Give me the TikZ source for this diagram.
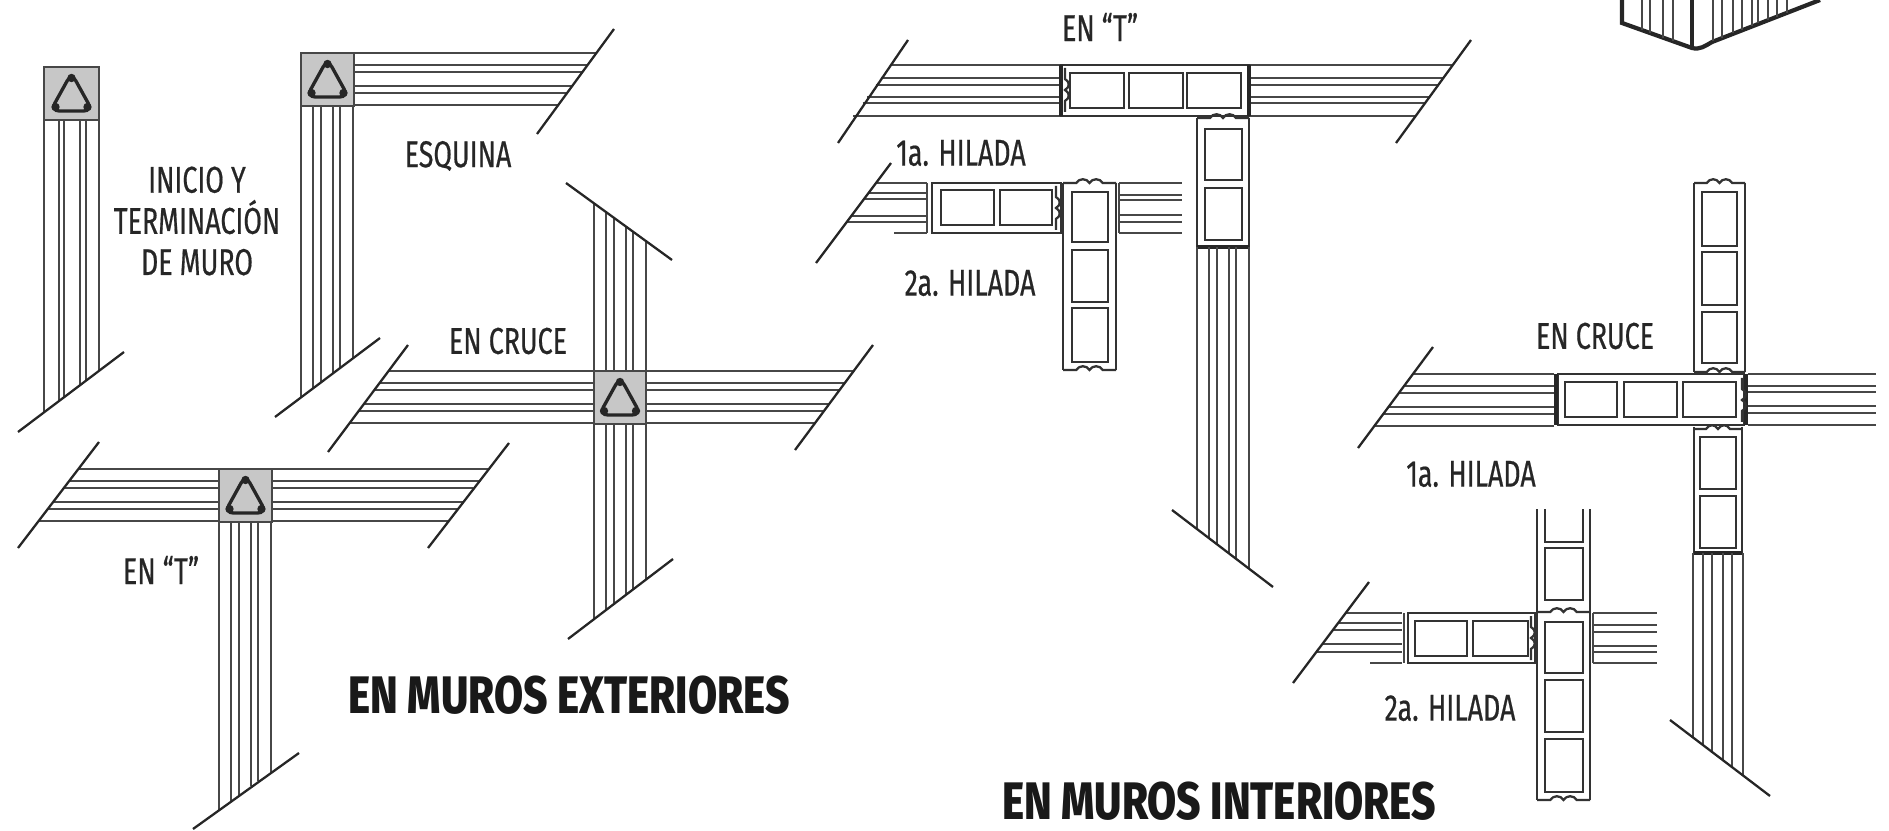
\documentclass[tikz,border=0pt]{standalone}
\usepackage{fontspec}
\setmainfont[FakeStretch=0.72,FakeBold=0.5]{Fira Sans}
\newfontfamily\titlefont[FakeStretch=0.8]{Fira Sans ExtraBold}
\usepackage{tikz}

% wall lines, block cells, concrete post
\tikzset{
	muro/.style={draw=black!72, line width=0.6pt},
	corte/.style={draw=black!85, line width=0.65pt},
	pieza/.style={draw=black!80, line width=0.65pt},
	tapa/.style={draw=black!85, line width=1.2pt},
	rotulo/.style={font=\fontsize{10.6}{11.7}\selectfont, text=black!85, inner sep=0pt, align=center},
	titulo/.style={font=\fontsize{15}{18}\selectfont\titlefont, text=black!90, inner sep=0pt}
}
\newcommand{\hwall}[6][0,12,19,33,40,52]{
	\foreach \o in {#1} \draw[muro] ({#2+#3*\o},{#6+\o}) -- ({#4+#5*\o},{#6+\o});
}
\newcommand{\vwall}[6][0,12,20,32,39,52]{
	\foreach \o in {#1} \draw[muro] ({#2+\o},{#3+#4*\o}) -- ({#2+\o},{#5+#6*\o});
}
\newcommand{\castillo}[3]{
	\draw[muro, fill=black!22] (#1,#2) rectangle ++(#3,53);
	\draw[draw=black!85, line width=0.95pt, rounded corners=2.5pt]
		({#1+#3/2},{#2+6}) -- ({#1+#3/2+21},{#2+44}) -- ({#1+#3/2-21},{#2+44}) -- cycle;
	\foreach \a/\b in {0/11, 16/40, -16/40} \fill[black!85] ({#1+#3/2+\a},{#2+\b}) circle (4.2);
}
\newcommand{\onda}[4]{
	\begin{scope}[shift={(#1,#2)}, rotate=#4]
		\draw[pieza] (0,0) -- ({#3*0.25},0) .. controls +(3,-5) and +(-3,-5) .. ({#3*0.5},0)
			.. controls +(3,-5) and +(-3,-5) .. ({#3*0.75},0) -- (#3,0);
	\end{scope}
}

\begin{document}
\begin{tikzpicture}[x=0.01cm, y=-0.01cm]
  \useasboundingbox (0,0) rectangle (1889,831);

  % exterior walls
  \vwall[0,15,20,36,42,55]{44}{120}{0}{412}{-.755}
  \castillo{44}{67}{55}
  \draw[corte] (18,432) -- (124,352);

  \hwall{354}{0}{596}{-.733}{53}
  \vwall{301}{107}{0}{398}{-.756}
  \castillo{301}{53}{53}
  \draw[corte] (614,29) -- (537,134);
  \draw[corte] (275,417) -- (380,338);

  \hwall{389}{-.748}{594}{0}{371}
  \hwall{646}{0}{854}{-.743}{371}
  \vwall{594}{203}{.726}{371}{0}
  \vwall{594}{424}{0}{619}{-.762}
  \castillo{594}{371}{52}
  \draw[corte] (408,345) -- (328,452);
  \draw[corte] (873,345) -- (795,450);
  \draw[corte] (566,183) -- (672,260);
  \draw[corte] (673,559) -- (568,639);

  \hwall{78}{-.764}{219}{0}{469}
  \hwall{272}{0}{488}{-.77}{469}
  \vwall{219}{522}{0}{810}{-.736}
  \castillo{219}{469}{53}
  \draw[corte] (99,442) -- (18,548);
  \draw[corte] (509,443) -- (428,548);
  \draw[corte] (299,753) -- (193,829);

  % interior wall, en T
  \hwall[0,13,20,32,38,51]{890}{-.718}{1061}{0}{65}
  \hwall[0,13,20,32,38,51]{1249}{0}{1453}{-.728}{65}
  \draw[corte] (908,40) -- (838,143);
  \draw[corte] (1471,40) -- (1396,143);
  \draw[pieza] (1061,65) rectangle (1249,116);
  \draw[tapa] (1061,65) -- (1061,116);
  \draw[tapa] (1249,65) -- (1249,116);
  \onda{1065}{68}{44}{-90}
  \foreach \xa/\xb in {1070/1124, 1129/1183, 1187/1241} \draw[pieza] (\xa,73) rectangle (\xb,108);
  \draw[pieza] (1197,118) -- (1197,247) (1249,118) -- (1249,247);
  \onda{1197}{118}{52}{0}
  \draw[tapa] (1197,247) -- (1249,247);
  \foreach \ya/\yb in {129/180, 188/240} \draw[pieza] (1205,\ya) rectangle (1242,\yb);
  \vwall{1197}{247}{0}{529}{.762}
  \draw[corte] (1172,510) -- (1273,587);

  % 1a. and 2a. hilada
  \hwall[0,10,16,33,39]{876}{-.75}{927}{0}{183}
  \draw[muro] (894,233) -- (927,233);
  \hwall[0,12,17,32,39,50]{1119}{0}{1182}{0}{183}
  \draw[corte] (891,163) -- (816,263);
  \draw[pieza] (932,183) rectangle (1061,233);
  \draw[muro] (927,183) -- (927,233);
  \foreach \xa/\xb in {941/994, 1000/1052} \draw[pieza] (\xa,190) rectangle (\xb,225);
  \onda{1056}{186}{44}{-90}
  \draw[pieza] (1063,183) -- (1063,370) (1116,183) -- (1116,370);
  \draw[muro] (1119,183) -- (1119,233);
  \onda{1063}{183}{53}{0}
  \onda{1063}{370}{53}{0}
  \foreach \ya/\yb in {192/242, 250/302, 308/362} \draw[pieza] (1072,\ya) rectangle (1108,\yb);

  % interior wall, en cruce
  \hwall{1413}{-.743}{1554}{0}{374}
  \hwall[0,12,18,32,39,51]{1748}{0}{1876}{0}{374}
  \draw[corte] (1433,347) -- (1358,448);
  \draw[pieza] (1558,374) rectangle (1744,425);
  \draw[tapa] (1556,374) -- (1556,425);
  \draw[tapa] (1746,374) -- (1746,425);
  \onda{1742}{378}{44}{-90}
  \foreach \xa/\xb in {1565/1617, 1624/1677, 1683/1736} \draw[pieza] (\xa,382) rectangle (\xb,417);
  \draw[pieza] (1694,183) -- (1694,372) (1745,183) -- (1745,372);
  \onda{1694}{183}{51}{0}
  \onda{1694}{372}{51}{0}
  \foreach \ya/\yb in {192/246, 252/305, 312/363} \draw[pieza] (1702,\ya) rectangle (1737,\yb);
  \draw[pieza] (1694,427) -- (1694,553) (1742,427) -- (1742,553);
  \onda{1694}{429}{48}{0}
  \foreach \ya/\yb in {437/489, 496/548} \draw[pieza] (1700,\ya) rectangle (1736,\yb);
  \draw[tapa] (1694,553) -- (1742,553);
  \vwall[0,10,19,30,39,50]{1693}{553}{0}{737}{.76}
  \draw[corte] (1670,720) -- (1770,796);

  % second course of the cross
  \hwall[0,10,17,31,39]{1346}{-.75}{1402}{0}{613}
  \draw[muro] (1370,663) -- (1402,663);
  \hwall[0,12,19,33,39,50]{1593}{0}{1657}{0}{613}
  \draw[corte] (1369,582) -- (1293,683);
  \draw[pieza] (1408,613) rectangle (1535,663);
  \draw[muro] (1404,613) -- (1404,663);
  \foreach \xa/\xb in {1415/1467, 1473/1528} \draw[pieza] (\xa,621) rectangle (\xb,656);
  \onda{1531}{616}{44}{-90}
  \draw[pieza] (1537,509) -- (1537,800) (1590,509) -- (1590,800);
  \draw[muro] (1593,613) -- (1593,663);
  \draw[pieza] (1545,509) -- (1545,542) -- (1583,542) -- (1583,509);
  \onda{1537}{800}{53}{0}
  \onda{1537}{612}{53}{0}
  \foreach \ya/\yb in {548/600, 622/673, 680/732, 739/792} \draw[pieza] (1545,\ya) rectangle (1583,\yb);

  % corner of the block wall, top right
  \draw[tapa] (1622,0) -- (1622,23) -- (1692,48) .. controls (1700,50) and (1705,46) .. (1712,42) -- (1820,0);
  \draw[tapa] (1692,0) -- (1692,48);
  \foreach \xa/\ya in {1642/30, 1650/33, 1663/38, 1673/41, 1713/41, 1722/38, 1733/33, 1742/30, 1752/26, 1758/23, 1768/20, 1777/17, 1787/13}
    \draw[muro] (\xa,0) -- (\xa,\ya);

  % labels
  \node (inicio) [rotulo] at (197,221) {INICIO Y\\TERMINACIÓN\\DE MURO};
  \node (esquina) [rotulo] at (458,156) {ESQUINA};
  \node (cruce_ext) [rotulo] at (508,341) {EN CRUCE};
  \node (te_ext) [rotulo] at (161,570) {EN “T”};
  \node (exteriores) [titulo] at (569,695) {EN MUROS EXTERIORES};
  \node (te_int) [rotulo] at (1100,27) {EN “T”};
  \node (hilada_a) [rotulo] at (961,153) {1a. HILADA};
  \node (hilada_b) [rotulo] at (970,283) {2a. HILADA};
  \node (cruce_int) [rotulo] at (1595,336) {EN CRUCE};
  \node (hilada_c) [rotulo] at (1471,474) {1a. HILADA};
  \node (hilada_d) [rotulo] at (1450,708) {2a. HILADA};
  \node (interiores) [titulo] at (1219,801) {EN MUROS INTERIORES};
\end{tikzpicture}
\end{document}
